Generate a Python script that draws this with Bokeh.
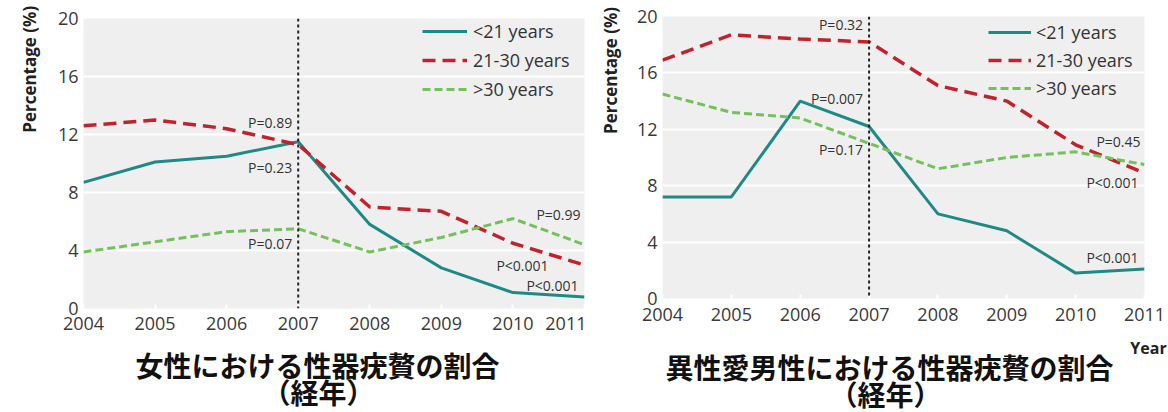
from bokeh.plotting import figure
from bokeh.models import Span, Label, Legend, LegendItem, FixedTicker, Range1d
from bokeh.layouts import row
from bokeh.embed import file_html
from bokeh.resources import INLINE
from math import pi

# ---- data -------------------------------------------------------------
years = [2004, 2005, 2006, 2007, 2008, 2009, 2010, 2011]
y_ticks = [0, 4, 8, 12, 16, 20]
series_labels = ["<21 years", "21-30 years", ">30 years"]

women_lt21 = [8.7, 10.1, 10.5, 11.5, 5.8, 2.8, 1.1, 0.8]
women_21_30 = [12.6, 13.0, 12.4, 11.3, 7.0, 6.7, 4.5, 3.0]
women_gt30 = [3.9, 4.6, 5.3, 5.5, 3.9, 4.9, 6.2, 4.4]

men_lt21 = [7.2, 7.2, 14.0, 12.2, 6.0, 4.8, 1.8, 2.1]
men_21_30 = [16.9, 18.7, 18.4, 18.2, 15.1, 14.0, 10.9, 8.9]
men_gt30 = [14.5, 13.2, 12.8, 11.0, 9.2, 10.0, 10.4, 9.5]

# p-value annotations: (text, year, value, x offset px)
women_pvals = [("P=0.89", 2007, 12.8, -6), ("P=0.23", 2007, 9.7, -6),
               ("P=0.07", 2007, 4.5, -6), ("P=0.99", 2011, 6.5, -4),
               ("P<0.001", 2011, 3.0, -36), ("P<0.001", 2011, 1.6, -6)]
men_pvals = [("P=0.32", 2007, 19.4, -6), ("P=0.007", 2007, 14.2, -6),
             ("P=0.17", 2007, 10.6, -6), ("P=0.45", 2011, 11.1, -4),
             ("P<0.001", 2011, 8.2, -6), ("P<0.001", 2011, 2.9, -6)]

women_title = ["女性における性器疣贅の割合", "（経年）"]
men_title = ["異性愛男性における性器疣贅の割合", "（経年）"]
y_label = "Percentage (%)"
x_label = "Year"

# ---- styles -----------------------------------------------------------
TEAL = "#1f8a85"
RED = "#c0232c"
GREEN = "#74c15c"
FONT = "Open Sans"
CJK = "Noto Sans CJK JP"


class Frame:
    """pixel box of a plot frame inside its canvas, used to place outer texts"""
    def __init__(self, left, top, width, height):
        self.left, self.top, self.width, self.height = left, top, width, height

    def to_data(self, sx, sy):
        x = years[0] + (sx - self.left) / self.width * (years[-1] - years[0])
        y = y_ticks[-1] * (self.top + self.height - sy) / self.height
        return x, y


def make_panel(width, height, border_right, fr, lt21, mid, gt30, pvals,
               leg_loc, glyph_w, standoff, spacing, xstand):
    p = figure(width=width, height=height, output_backend="svg",
               toolbar_location=None,
               x_range=Range1d(years[0], years[-1]),
               y_range=Range1d(y_ticks[0], y_ticks[-1]),
               min_border_left=fr.left, min_border_right=border_right,
               min_border_top=fr.top,
               min_border_bottom=height - fr.top - fr.height)
    p.frame_align = False
    p.background_fill_color = "#efefef"
    p.border_fill_color = "white"
    p.outline_line_color = None
    p.xgrid.grid_line_color = None
    p.ygrid.grid_line_color = "white"
    p.ygrid.grid_line_width = 2
    p.ygrid.ticker = FixedTicker(ticks=y_ticks)

    for ax in (p.xaxis[0], p.yaxis[0]):
        ax.axis_line_color = None
        ax.minor_tick_line_color = None
        ax.major_label_text_font = FONT
        ax.major_label_text_font_size = "18px"
        ax.major_label_text_color = "#3a3a3a"
    p.xaxis.ticker = FixedTicker(ticks=years)
    p.xaxis.major_tick_line_color = "white"
    p.xaxis.major_tick_line_width = 2
    p.xaxis.major_tick_in = 4
    p.xaxis.major_tick_out = 0
    p.xaxis.major_label_standoff = xstand
    p.yaxis.ticker = FixedTicker(ticks=y_ticks)
    p.yaxis.major_tick_line_color = None
    p.yaxis.major_tick_out = 0
    p.yaxis.major_tick_in = 0
    p.yaxis.major_label_standoff = 5

    p.add_layout(Span(location=2007, dimension="height", line_color="#222222",
                      line_width=2, line_dash="3 3"))

    r1 = p.line(years, lt21, line_color=TEAL, line_width=3)
    r2 = p.line(years, mid, line_color=RED, line_width=3.5, line_dash="13 7")
    r3 = p.line(years, gt30, line_color=GREEN, line_width=3, line_dash="8 4")

    legend = Legend(items=[LegendItem(label=series_labels[0], renderers=[r1]),
                           LegendItem(label=series_labels[1], renderers=[r2]),
                           LegendItem(label=series_labels[2], renderers=[r3])],
                    location=leg_loc, glyph_width=glyph_w, glyph_height=24,
                    label_height=24, label_standoff=standoff, spacing=spacing,
                    padding=0, margin=0, border_line_color=None,
                    background_fill_alpha=0,
                    label_text_font=FONT, label_text_font_size="18px",
                    label_text_color="#333333")
    p.add_layout(legend)

    for txt, xv, yv, off in pvals:
        p.add_layout(Label(x=xv, y=yv, text=txt, x_offset=off,
                           text_align="right", text_baseline="middle",
                           text_font=FONT, text_font_size="14px",
                           text_color="#333333"))
    return p


def outer_text(p, fr, side, text, sx, sy, size, font=FONT, angle=0.0,
               color="#222222"):
    x, y = fr.to_data(sx, sy)
    p.add_layout(Label(x=x, y=y, text=text, angle=angle, text_align="center",
                       text_baseline="middle", text_font=font,
                       text_font_size=size, text_font_style="bold",
                       text_color=color), side)


# left panel: frame 83..584 x 18..309 (canvas px)
fr_left = Frame(83, 18, 501, 291)
left = make_panel(586, 412, 2, fr_left, women_lt21, women_21_30, women_gt30,
                  women_pvals, (339, 207), 45, 6, 5, 8)
# right panel: frame 76..558 x 16..298 (canvas px) -> 662..1144 on the page
fr_right = Frame(76, 16, 482, 282)
right = make_panel(582, 412, 24, fr_right, men_lt21, men_21_30, men_gt30,
                   men_pvals, (326, 198), 43, 5, 4, 9)

outer_text(left, fr_left, "left", y_label, 29, 69, "17px", angle=pi / 2)
outer_text(right, fr_right, "right", y_label, 610 - 586, 70, "17px", angle=pi / 2)
outer_text(right, fr_right, "left", x_label, 1148 - 586, 347, "16px")

outer_text(left, fr_left, "below", women_title[0], 317, 366, "28px", CJK, color="#111111")
outer_text(left, fr_left, "below", women_title[1], 318, 393, "28px", CJK, color="#111111")
outer_text(right, fr_right, "below", men_title[0], 889 - 586, 366, "28px", CJK, color="#111111")
outer_text(right, fr_right, "below", men_title[1], 885 - 586, 393, "28px", CJK, color="#111111")

layout = row(left, right)
open("out.html", "w").write(file_html(layout, INLINE))
